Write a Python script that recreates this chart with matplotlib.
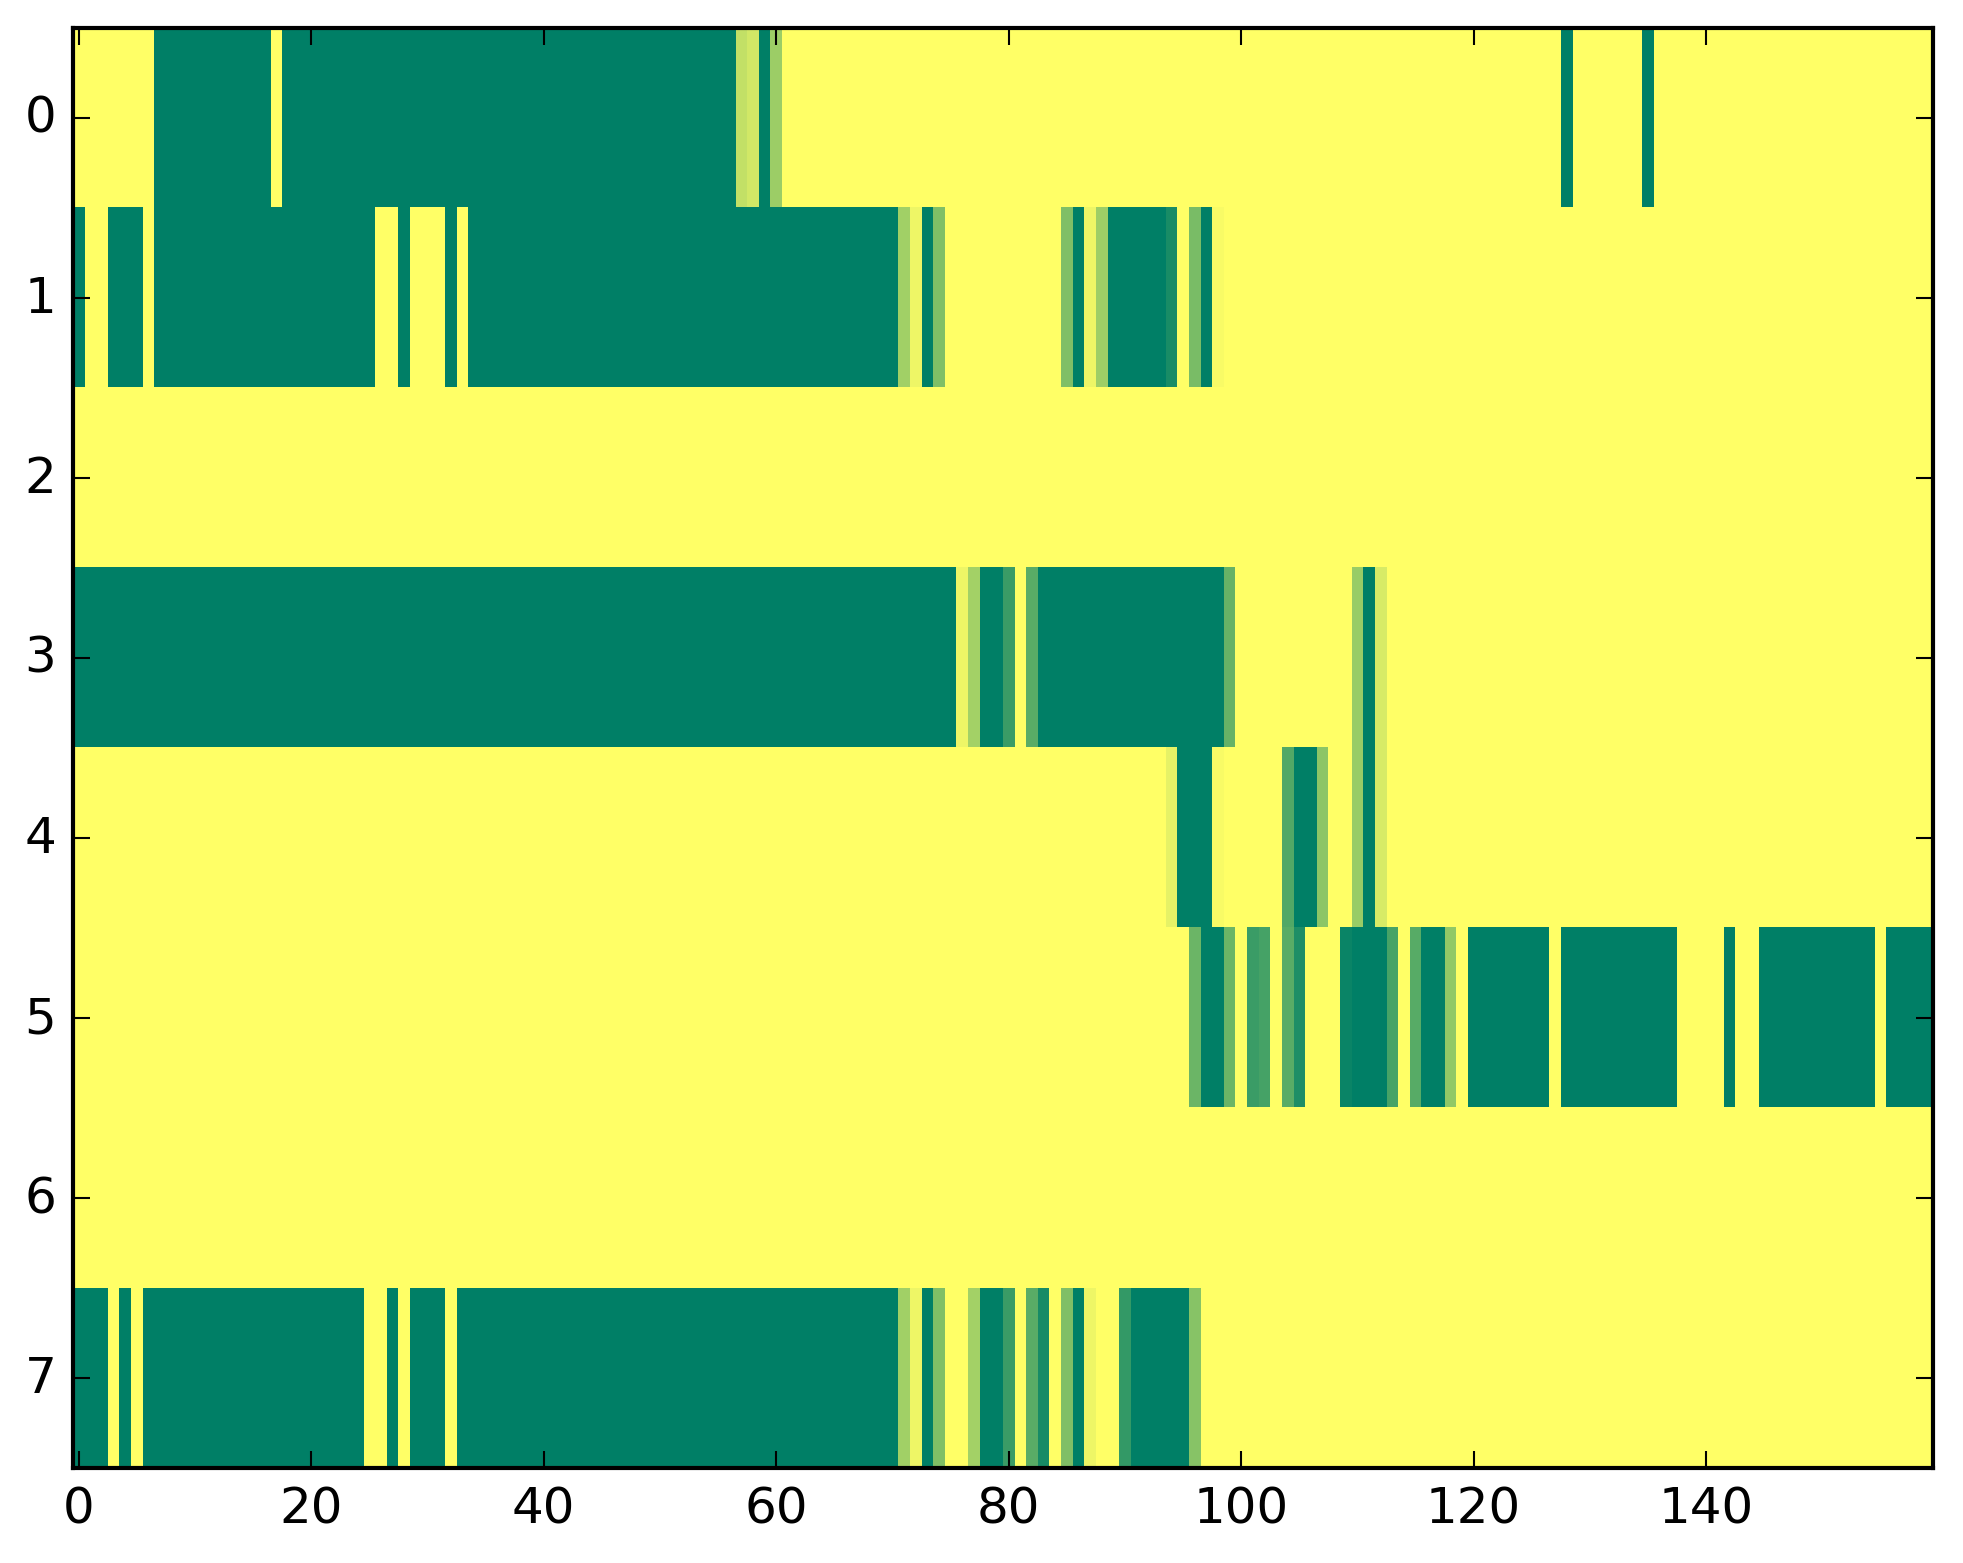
import numpy as np
import matplotlib
matplotlib.use("Agg")
import matplotlib.pyplot as plt

plt.style.use('classic')

# each row as (value, run length) pairs, 160 columns per row
row0 = [(1, 7), (0, 10), (1, 1), (0, 39), (0.76, 1), (0.82, 1), (0, 1), (0.61, 1),
        (1, 67), (0, 1), (1, 6), (0, 1), (1, 24)]
row1 = [(0, 1), (1, 2), (0, 3), (1, 1), (0, 19), (1, 2), (0, 1), (1, 3), (0, 1), (1, 1),
        (0, 37), (0.63, 1), (0.93, 1), (0, 1), (0.5, 1), (1, 10), (0.5, 1), (0, 1),
        (0.93, 1), (0.62, 1), (0, 5), (0.1, 1), (1, 1), (0.48, 1), (0, 1), (0.97, 1),
        (1, 61)]
row2 = [(1, 160)]
row3 = [(0, 76), (0.93, 1), (0.64, 1), (0, 2), (0.23, 1), (1, 1), (0.35, 1), (0, 16),
        (0.4, 1), (1, 10), (0.6, 1), (0, 1), (0.84, 1), (1, 47)]
row4 = [(1, 94), (0.9, 1), (0, 3), (0.97, 1), (1, 5), (0.32, 1), (0, 2), (0.55, 1),
        (1, 2), (0.6, 1), (0, 1), (0.84, 1), (1, 47)]
row5 = [(1, 96), (0.42, 1), (0, 2), (0.42, 1), (1, 1), (0.23, 1), (0.27, 1), (1, 1),
        (0.35, 1), (0.12, 1), (1, 3), (0.04, 1), (0, 3), (0.28, 1), (1, 1), (0.34, 1),
        (0, 2), (0.57, 1), (1, 1), (0, 7), (1, 1), (0, 10), (1, 4), (0, 1), (1, 2),
        (0, 10), (1, 1), (0, 4)]
row6 = [(1, 160)]
row7 = [(0, 3), (1, 1), (0, 1), (1, 1), (0, 19), (1, 2), (0, 1), (1, 1), (0, 3), (1, 1),
        (0, 38), (0.63, 1), (0.93, 1), (0, 1), (0.5, 1), (1, 2), (0.64, 1), (0, 2),
        (0.23, 1), (1, 1), (0.35, 1), (0.09, 1), (1, 1), (0.5, 1), (0, 1), (0.93, 1),
        (1, 2), (0.2, 1), (0, 5), (0.53, 1), (1, 63)]

rows = [row0, row1, row2, row3, row4, row5, row6, row7]


def expand(runs):
    vals = []
    for v, n in runs:
        vals += [v] * n
    return vals


data = np.array([expand(r) for r in rows])

fig = plt.figure(figsize=(1963 / 300, 1564 / 300), dpi=300)
ax = fig.add_axes([0.0372, 0.0607, 0.9474, 0.9208])
ax.imshow(data, cmap='summer', vmin=0, vmax=1, aspect='auto', interpolation='nearest')

fig.savefig('out.png', dpi=300)
